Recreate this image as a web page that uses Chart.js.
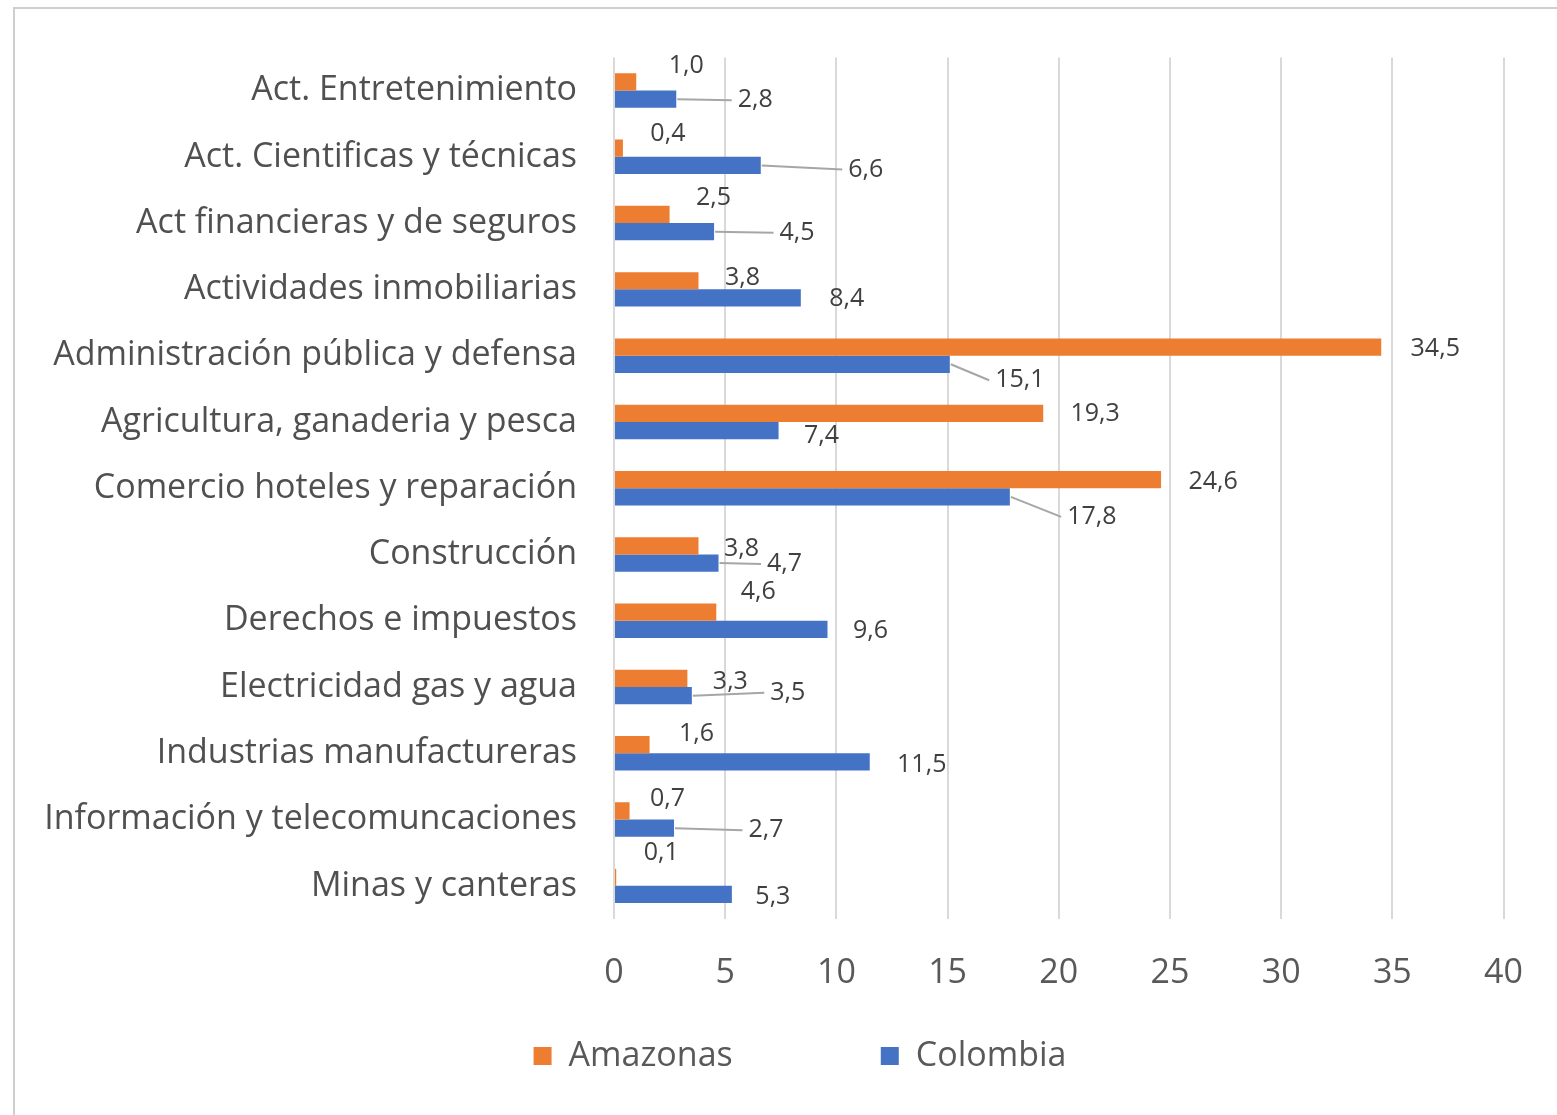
<!DOCTYPE html>
<html>
<head>
<meta charset="utf-8">
<style>
    html, body { margin: 0; padding: 0; background: #fff; }
    #wrap { position: relative; width: 1557px; height: 1115px; }
</style>
</head>
<body>
<div id="wrap"><canvas id="gdpChart"></canvas></div>

<script src="https://cdn.jsdelivr.net/npm/chart.js@4.4.0/dist/chart.umd.min.js"></script>
<script>
    // sectors, top to bottom
    var sectors = [
        'Act. Entretenimiento',
        'Act. Cientificas y técnicas',
        'Act financieras y de seguros',
        'Actividades inmobiliarias',
        'Administración pública y defensa',
        'Agricultura, ganaderia y pesca',
        'Comercio hoteles y reparación',
        'Construcción',
        'Derechos e impuestos',
        'Electricidad gas y agua',
        'Industrias manufactureras',
        'Información y telecomuncaciones',
        'Minas y canteras'
    ];
    var amazonas = [1.0, 0.4, 2.5, 3.8, 34.5, 19.3, 24.6, 3.8, 4.6, 3.3, 1.6, 0.7, 0.1];
    var colombia = [2.8, 6.6, 4.5, 8.4, 15.1, 7.4, 17.8, 4.7, 9.6, 3.5, 11.5, 2.7, 5.3];

    // where each value label sits, in px from the end of its bar (as placed in the original)
    var amazonasLabelOffset = [[50,-16],[45,-14],[44,-17],[44,-3],[54,2],[52,1],[52,2],[43,3],[42,-20],[43,3],[47,-11],[38,-12],[45,-24]];
    var colombiaLabelOffset = [[79,1],[105,4],[83,1],[46,1],[70,16],[43,5],[82,20],[66,1],[43,2],[96,-3],[52,3],[92,2],[41,2]];

    var fontFamily = '"Open Sans", "Noto Sans", sans-serif';

    function fmt(v) {
        return v.toFixed(1).replace('.', ',');
    }

    // value labels with leader lines, like the spreadsheet original
    var valueLabels = {
        id: 'valueLabels',
        afterDatasetsDraw: function(chart) {
            var ctx = chart.ctx;
            var offsets = [amazonasLabelOffset, colombiaLabelOffset];
            ctx.save();
            ctx.font = '25px ' + fontFamily;
            ctx.textAlign = 'center';
            ctx.textBaseline = 'middle';
            chart.data.datasets.forEach(function(ds, d) {
                var meta = chart.getDatasetMeta(d);
                meta.data.forEach(function(bar, i) {
                    var off = offsets[d][i];
                    var text = fmt(ds.data[i]);
                    var tx = bar.x + off[0];
                    var ty = bar.y + off[1];
                    var w = ctx.measureText(text).width;
                    if (d === 1 && off[0] > 55) {
                        ctx.strokeStyle = '#a6a6a6';
                        ctx.lineWidth = 2;
                        ctx.beginPath();
                        ctx.moveTo(bar.x + 1, bar.y);
                        ctx.lineTo(tx - w / 2 - 6, ty);
                        ctx.stroke();
                    }
                    ctx.fillStyle = '#404040';
                    ctx.fillText(text, tx, ty);
                });
            });
            ctx.restore();
        }
    };

    // thin frame of the pasted chart (top and left edges)
    var frame = {
        id: 'frame',
        afterLayout: function(chart) {
            // legend in the original sits a bit right of centre
            chart.legend.left += 94;
        },
        beforeDraw: function(chart) {
            var ctx = chart.ctx;
            ctx.save();
            ctx.strokeStyle = '#cfcfcf';
            ctx.lineWidth = 2;
            ctx.beginPath();
            ctx.moveTo(14, chart.height);
            ctx.lineTo(14, 8);
            ctx.lineTo(chart.width, 8);
            ctx.stroke();
            ctx.restore();
        }
    };

    document.addEventListener('DOMContentLoaded', function() {
        var ctx = document.getElementById('gdpChart').getContext('2d');
        new Chart(ctx, {
            type: 'bar',
            data: {
                labels: sectors,
                datasets: [{
                    label: 'Amazonas',
                    data: amazonas,
                    backgroundColor: '#ED7D31',
                    categoryPercentage: 0.52,
                    barPercentage: 1
                },
                {
                    label: 'Colombia',
                    data: colombia,
                    backgroundColor: '#4472C4',
                    categoryPercentage: 0.52,
                    barPercentage: 1
                }]
            },
            options: {
                indexAxis: 'y',
                responsive: true,
                maintainAspectRatio: false,
                animation: false,
                layout: {
                    padding: { top: 55, right: 51, bottom: 32, left: 0 }
                },
                scales: {
                    x: {
                        min: 0,
                        max: 40,
                        ticks: {
                            stepSize: 5,
                            padding: 34,
                            color: '#595959',
                            font: { family: fontFamily, size: 34 }
                        },
                        grid: {
                            color: '#d9d9d9',
                            lineWidth: 2,
                            drawTicks: false
                        },
                        border: { display: false },
                        afterFit: function(scale) { scale.height = 108; }
                    },
                    y: {
                        ticks: {
                            padding: 37,
                            color: '#505050',
                            font: { family: fontFamily, size: 34 }
                        },
                        grid: { display: false, drawTicks: false },
                        border: { display: false },
                        afterFit: function(scale) { scale.width = 614; }
                    }
                },
                plugins: {
                    tooltip: { enabled: false },
                    legend: {
                        position: 'bottom',
                        labels: {
                            boxWidth: 18,
                            boxHeight: 18,
                            padding: 12,
                            color: '#595959',
                            font: { family: fontFamily, size: 34 },
                            generateLabels: function(chart) {
                                var items = Chart.defaults.plugins.legend.labels.generateLabels(chart);
                                // wide gap between the two entries, as in the original
                                items[0].text = items[0].text + '\u2003\u2003\u2003\u2003';
                                return items;
                            }
                        }
                    }
                }
            },
            plugins: [valueLabels, frame]
        });
    });
</script>
</body>
</html>
